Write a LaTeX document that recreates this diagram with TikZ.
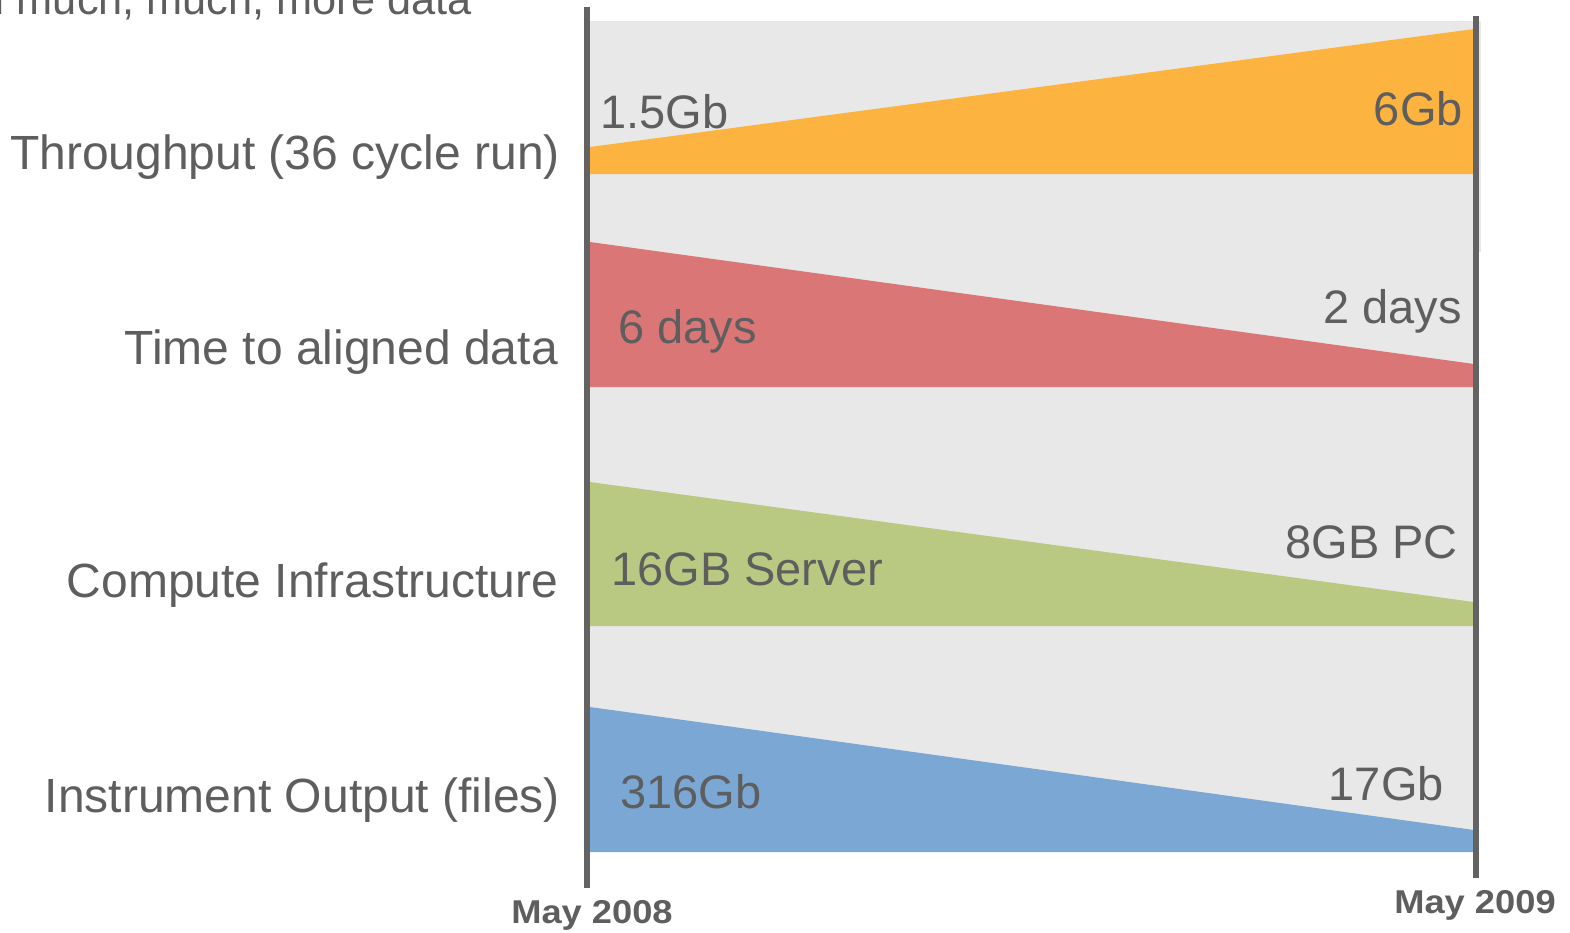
\documentclass[tikz,border=0pt]{standalone}
\usepackage{fontspec}
\setmainfont{Liberation Sans}
\definecolor{txtgray}{HTML}{5E5E5E}
\definecolor{linegray}{HTML}{636363}
\definecolor{bggray}{HTML}{E8E8E8}
\definecolor{bandorange}{HTML}{FDB340}
\definecolor{bandred}{HTML}{DB7677}
\definecolor{bandgreen}{HTML}{BAC982}
\definecolor{bandblue}{HTML}{7BA7D4}
\begin{document}
\begin{tikzpicture}[x=1pt,y=-1pt,
  lbl/.style={text=txtgray, inner sep=0pt, font=\fontsize{48}{52}\selectfont},
  vlbl/.style={text=txtgray, inner sep=0pt, font=\fontsize{47}{50}\selectfont},
  datelbl/.style={text=txtgray, inner sep=0pt, font=\fontsize{33}{36}\selectfont\bfseries, xscale=1.1},
  axis/.style={draw=linegray, line width=6pt}]
\useasboundingbox (0,0) rectangle (1570,932);
% background
\fill[bggray] (590,21) rectangle (1481,252);
\fill[bggray] (590,21) rectangle (1476,852);
% bands
\fill[bandorange] (590,147) -- (1474,29) -- (1474,174) -- (590,174) -- cycle;
\fill[bandred] (590,242) -- (1474,364) -- (1474,387) -- (590,387) -- cycle;
\fill[bandgreen] (590,482) -- (1474,602) -- (1474,626) -- (590,626) -- cycle;
\fill[bandblue] (590,707) -- (1474,830) -- (1474,852) -- (590,852) -- cycle;
% axes
\coordinate (l0) at (587,7);
\coordinate (l1) at (587,888);
\coordinate (r0) at (1476,16);
\coordinate (r1) at (1476,878);
\draw[axis] (l0) -- (l1);
\draw[axis] (r0) -- (r1);
% top cut-off title
\begin{scope}
\clip (0,0) rectangle (1570,932);
\node[text=txtgray, inner sep=0pt, font=\fontsize{43.3}{48}\selectfont, anchor=base east] (title) at (472,14) {and much, much, more data};
\end{scope}
% row labels
\node[lbl, anchor=base east] (thr) at (560,169) {Throughput (36 cycle run)};
\node[lbl, anchor=base east] (tim) at (558,364) {Time to aligned data};
\node[lbl, anchor=base east] (cmp) at (558,597) {Compute Infrastructure};
\node[lbl, anchor=base east] (ins) at (560,812) {Instrument Output (files)};
% values
\node[vlbl, anchor=base west] (v1a) at (600,128) {1.5Gb};
\node[vlbl, anchor=base east] (v1b) at (1463,125) {6Gb};
\node[vlbl, anchor=base west] (v2a) at (618,343) {6 days};
\node[vlbl, anchor=base east] (v2b) at (1462,323) {2 days};
\node[vlbl, anchor=base west] (v3a) at (611,585) {16GB Server};
\node[vlbl, anchor=base east] (v3b) at (1458,558) {8GB PC};
\node[vlbl, anchor=base west] (v4a) at (620,808) {316Gb};
\node[vlbl, anchor=base east] (v4b) at (1444,800) {17Gb};
% dates
\node[datelbl, anchor=base] (d0) at (592,923) {May 2008};
\node[datelbl, anchor=base] (d1) at (1475,913) {May 2009};
\end{tikzpicture}
\end{document}
